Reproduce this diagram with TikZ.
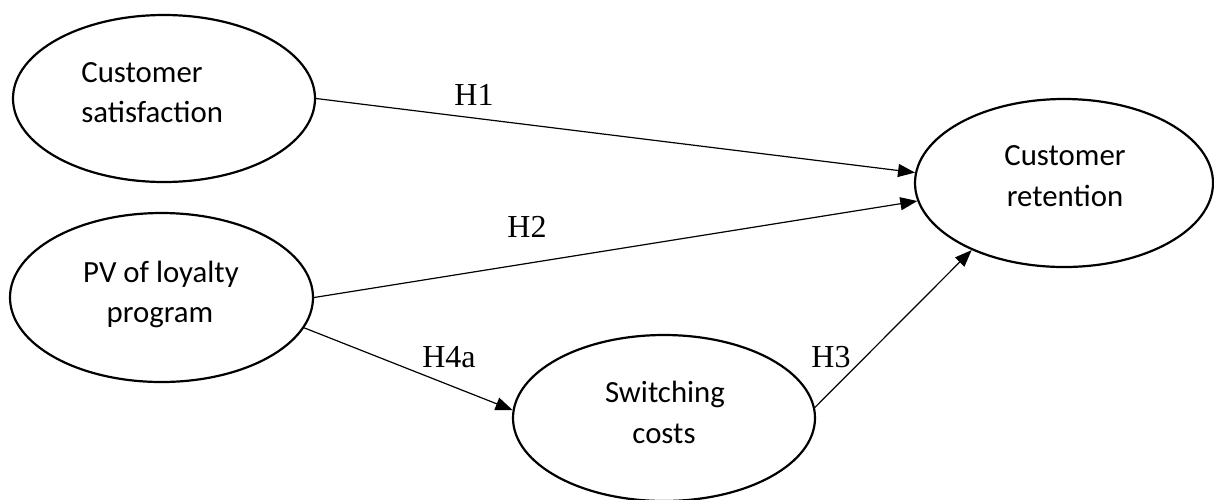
\documentclass[tikz,border=0pt]{standalone}
\usepackage{fontspec}
\setmainfont{Liberation Serif}
\newfontfamily\boxfont{Carlito}
\usetikzlibrary{shapes.geometric,arrows.meta}

\tikzset{
  construct/.style={draw=black, line width=1.1pt, ellipse, inner sep=0pt, fill=white},
  caption/.style={font=\boxfont\fontsize{15.4}{20}\selectfont, inner sep=0pt},
  hyp/.style={font=\fontsize{16}{19}\selectfont, inner sep=0pt, anchor=base},
  conn/.style={draw=black, line width=0.6pt, -{Triangle[length=8.5pt,width=6.5pt]}}
}

\begin{document}
\begin{tikzpicture}[x=0.5pt,y=-0.5pt]
  \useasboundingbox[fill=white] (0,0) rectangle (1214,499);

  % latent constructs
  \node[construct, minimum width=151pt, minimum height=83.5pt] (sat) at (164,98.5) {};
  \node[construct, minimum width=151.5pt, minimum height=84.5pt] (pv) at (161.5,297.5) {};
  \node[construct, minimum width=149pt, minimum height=84pt] (ret) at (1064,183) {};
  \node[construct, minimum width=151pt, minimum height=83pt] (sw) at (664,418) {};

  % construct names
  \node[caption, anchor=base west] (satA) at (81,82) {Customer};
  \node[caption, anchor=base west] (satB) at (81,122) {satisfaction};
  \node[caption, anchor=base] (pvA) at (161,282) {PV of loyalty};
  \node[caption, anchor=base] (pvB) at (160,322) {program};
  \node[caption, anchor=base] (retA) at (1065,165) {Customer};
  \node[caption, anchor=base] (retB) at (1065,206) {retention};
  \node[caption, anchor=base] (swA) at (665,402) {Switching};
  \node[caption, anchor=base] (swB) at (664,443) {costs};

  % hypothesised paths
  \draw[conn] (sat.east) -- (ret.176);
  \draw[conn] (pv.east) -- (ret.187);
  \draw[conn] (pv.348) -- (sw.177);
  \draw[conn] (sw.4) -- (ret.216);

  % path labels
  \node[hyp] (h1) at (474,105) {H1};
  \node[hyp] (h2) at (527,237) {H2};
  \node[hyp] (h3) at (831,367) {H3};
  \node[hyp] (h4a) at (449,367) {H4a};
\end{tikzpicture}
\end{document}
